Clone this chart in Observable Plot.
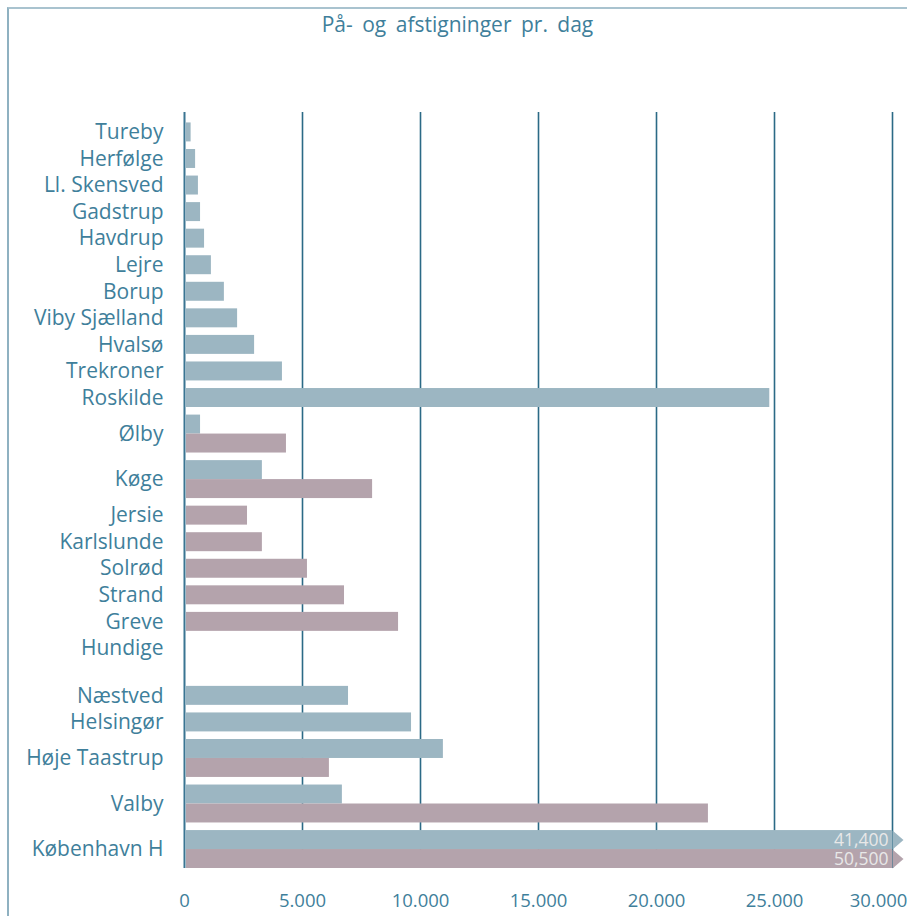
<!DOCTYPE html>
<html>
<head>
<meta charset="utf-8">
<script src="https://cdn.jsdelivr.net/npm/d3@7"></script>
<script src="https://cdn.jsdelivr.net/npm/@observablehq/plot@0.6"></script>
<style>
  html, body { margin: 0; padding: 0; background: #fff; }
  body { width: 907px; height: 916px; position: relative; overflow: hidden; font-family: "Open Sans", sans-serif; }
  #frame { position: absolute; left: 7px; top: 7px; width: 910px; height: 920px;
           border-left: 2px solid #8fb1c1; border-top: 2px solid #a9c3cf; box-sizing: border-box; }
  #title { position: absolute; left: 0; width: 907px; top: 9px; text-align: center;
           font-size: 21px; line-height: 30px; color: #3f7f9b; word-spacing: 4px; padding-left: 8px; box-sizing: border-box; }
  #chart { position: absolute; left: 0; top: 60px; }
</style>
</head>
<body>
<div id="frame"></div>
<div id="title">På- og afstigninger pr. dag</div>
<div id="chart"></div>
<script>
// Stations, top to bottom
const stations = [
  "Tureby", "Herfølge", "Ll. Skensved", "Gadstrup", "Havdrup", "Lejre", "Borup",
  "Viby Sjælland", "Hvalsø", "Trekroner", "Roskilde", "Ølby", "Køge",
  "Jersie", "Karlslunde", "Solrød", "Strand", "Greve", "Hundige",
  "Næstved", "Helsingør", "Høje Taastrup", "Valby", "København H"
];
// Section each station belongs to (a wider gap separates the sections)
const sections = [
  1, 1, 1, 1, 1, 1, 1, 1, 1, 1, 1, 1, 1,
  1, 1, 1, 1, 1, 1,
  2, 2, 2, 2, 2
];
// Boardings and alightings per day, first series (blue-grey bars)
const seriesA = [
  280, 470, 590, 680, 850, 1140, 1690,
  2250, 2970, 4150, 24800, 680, 3300,
  null, null, null, null, null, null,
  6950, 9620, 10970, 6690, 41400
];
// Second series (mauve bars)
const seriesB = [
  null, null, null, null, null, null, null,
  null, null, null, null, 4320, 7970,
  2670, 3300, 5210, 6780, 9070, null,
  null, null, 6140, 22200, 50500
];
const xTicks = [0, 5000, 10000, 15000, 20000, 25000, 30000];
const xMax = 30000;

const colorA = "#9cb6c2";
const colorB = "#b4a3ac";
const textColor = "#3f7f9b";
const gridColor = "#2b6a86";

// Vertical layout in bar units: each bar is one unit thick, rows separated by a gap
const rowGap = 0.4;
const sectionGap = 1.1;
const headroom = 0.55;

const bars = [];
const labels = [];
let pos = 0;
stations.forEach((name, i) => {
  if (i > 0) {
    pos += rowGap;
    if (sections[i] !== sections[i - 1]) pos += sectionGap;
  }
  const start = pos;
  const entries = [["A", seriesA[i]], ["B", seriesB[i]]].filter(([, v]) => v != null);
  entries.forEach(([series, value], k) => {
    bars.push({ station: name, series, value, y1: start + k, y2: start + k + 1 });
  });
  const n = Math.max(1, entries.length);
  labels.push({ station: name, y: start + n / 2 });
  pos = start + n;
});
const total = pos;

const overflow = bars.filter(d => d.value > xMax);
const thousands = d3.format(",");
const tickLabel = d => thousands(d).replace(/,/g, ".");
const arrowHead = {
  draw(context) {
    context.moveTo(0, -9.5);
    context.lineTo(11, 0);
    context.lineTo(0, 9.5);
    context.closePath();
  }
};

const tickStyle = { anchor: "bottom", tickSize: 0, tickPadding: 25, tickFormat: tickLabel, fontSize: 18.5, fill: textColor };

const chart = Plot.plot({
  width: 907,
  height: 856,
  marginLeft: 184,
  marginRight: 15,
  marginTop: 52,
  marginBottom: 48,
  style: { fontFamily: "'Open Sans', sans-serif", color: textColor, background: "transparent" },
  x: { domain: [0, xMax], axis: null },
  y: { domain: [-headroom, total], range: [52, 808], axis: null },
  color: { domain: ["A", "B"], range: [colorA, colorB] },
  marks: [
    Plot.ruleX(xTicks.filter(d => d > 0), { stroke: gridColor, strokeWidth: 1.6 }),
    Plot.rect(bars, {
      x1: 0,
      x2: d => Math.min(d.value, xMax),
      y1: "y1",
      y2: "y2",
      fill: "series",
      insetLeft: 2
    }),
    Plot.dot(overflow, {
      x: () => xMax,
      y: d => (d.y1 + d.y2) / 2,
      symbol: arrowHead,
      fill: "series",
      stroke: null
    }),
    Plot.text(overflow, {
      x: () => xMax,
      y: d => (d.y1 + d.y2) / 2,
      text: d => thousands(d.value),
      textAnchor: "end",
      dx: -4,
      fill: "#e8e8e8",
      fontSize: 17.5
    }),
    Plot.ruleX([0], { stroke: "#3a7592", strokeWidth: 2 }),
    Plot.text(labels, {
      x: () => 0,
      y: "y",
      text: "station",
      textAnchor: "end",
      dx: -21,
      fill: textColor,
      fontSize: 21,
      style: "word-spacing: 6px"
    }),
    // x tick labels; the last one is pulled in so it stays inside the page
    Plot.axisX(xTicks.slice(0, -1), tickStyle),
    Plot.axisX(xTicks.slice(-1), { ...tickStyle, dx: -14 })
  ]
});
document.getElementById("chart").appendChild(chart);
</script>
</body>
</html>
